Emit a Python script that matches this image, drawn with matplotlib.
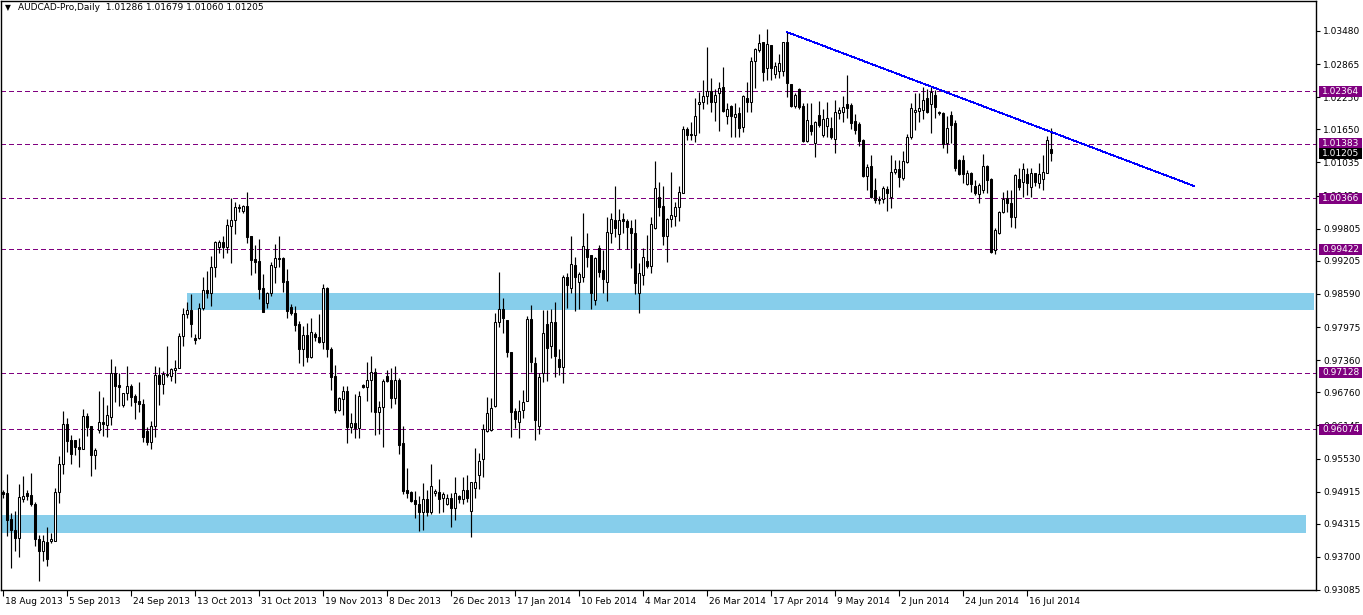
import matplotlib
matplotlib.use("Agg")
import matplotlib.pyplot as plt
import matplotlib.transforms as mtransforms
from matplotlib.patches import Rectangle
import numpy as np

# ---------------- data ----------------
opens = [0.9490, 0.9488, 0.9441, 0.9420, 0.9405, 0.9478, 0.9488, 0.9485, 0.9469, 0.9403,
         0.9381, 0.9398, 0.9400, 0.9400, 0.9490, 0.9543, 0.9617, 0.9587, 0.9587, 0.9574,
         0.9570, 0.9632, 0.9613, 0.9560, 0.9606, 0.9621, 0.9615, 0.9630, 0.9712, 0.9690,
         0.9652, 0.9675, 0.9688, 0.9669, 0.9660, 0.9654, 0.9604, 0.9584, 0.9613, 0.9708,
         0.9691, 0.9708, 0.9706, 0.9717, 0.9721, 0.9781, 0.9822, 0.9829, 0.9777, 0.9777,
         0.9833, 0.9866, 0.9861, 0.9909, 0.9946, 0.9955, 0.9946, 0.9986, 0.9997, 1.0021,
         1.0013, 1.0023, 0.9967, 0.9924, 0.9920, 0.9870, 0.9842, 0.9861, 0.9909, 0.9926,
         0.9926, 0.9883, 0.9835, 0.9824, 0.9803, 0.9757, 0.9783, 0.9742, 0.9784, 0.9779,
         0.9770, 0.9870, 0.9757, 0.9707, 0.9643, 0.9664, 0.9679, 0.9612, 0.9619, 0.9610,
         0.9690, 0.9686, 0.9699, 0.9714, 0.9640, 0.9649, 0.9706, 0.9699, 0.9666, 0.9699,
         0.9582, 0.9495, 0.9491, 0.9476, 0.9468, 0.9453, 0.9478, 0.9453, 0.9489, 0.9491,
         0.9480, 0.9468, 0.9480, 0.9461, 0.9483, 0.9478, 0.9494, 0.9455, 0.9498, 0.9523,
         0.9552, 0.9604, 0.9606, 0.9651, 0.9807, 0.9831, 0.9811, 0.9751, 0.9641, 0.9621,
         0.9643, 0.9660, 0.9812, 0.9731, 0.9614, 0.9712, 0.9803, 0.9762, 0.9807, 0.9738,
         0.9723, 0.9891, 0.9870, 0.9913, 0.9881, 0.9891, 0.9942, 0.9931, 0.9848, 0.9944,
         0.9903, 0.9881, 0.9972, 0.9996, 0.9970, 0.9999, 0.9994, 0.9981, 0.9972, 0.9861,
         0.9894, 0.9920, 0.9911, 0.9982, 1.0039, 1.0022, 0.9967, 0.9998, 1.0004, 1.0021,
         1.0047, 1.0166, 1.0157, 1.0155, 1.0212, 1.0216, 1.0227, 1.0236, 1.0216, 1.0233,
         1.0244, 1.0190, 1.0208, 1.0188, 1.0196, 1.0170, 1.0223, 1.0216, 1.0292, 1.0313,
         1.0328, 1.0279, 1.0322, 1.0268, 1.0274, 1.0274, 1.0328, 1.0249, 1.0208, 1.0240,
         1.0209, 1.0143, 1.0173, 1.0140, 1.0192, 1.0155, 1.0171, 1.0168, 1.0147, 1.0195,
         1.0197, 1.0212, 1.0210, 1.0181, 1.0175, 1.0145, 1.0078, 1.0097, 1.0052, 1.0034,
         1.0035, 1.0054, 1.0039, 1.0086, 1.0091, 1.0075, 1.0104, 1.0151, 1.0197, 1.0199,
         1.0201, 1.0223, 1.0212, 1.0229, 1.0197, 1.0195, 1.0140, 1.0192, 1.0177, 1.0108,
         1.0108, 1.0063, 1.0084, 1.0060, 1.0045, 1.0052, 1.0097, 1.0073, 0.9941, 0.9972,
         1.0011, 1.0037, 1.0028, 1.0002, 1.0073, 1.0067, 1.0082, 1.0058, 1.0084, 1.0065,
         1.0073, 1.0084, 1.01286]
highs = [0.9494, 0.9524, 0.9452, 0.9455, 0.9505, 0.9520, 0.9495, 0.9526, 0.9472, 0.9411,
         0.9411, 0.9426, 0.9415, 0.9498, 0.9558, 0.9641, 0.9628, 0.9596, 0.9587, 0.9591,
         0.9645, 0.9637, 0.9613, 0.9573, 0.9678, 0.9667, 0.9652, 0.9738, 0.9725, 0.9712,
         0.9675, 0.9725, 0.9692, 0.9673, 0.9695, 0.9664, 0.9612, 0.9623, 0.9725, 0.9723,
         0.9716, 0.9762, 0.9721, 0.9736, 0.9787, 0.9833, 0.9844, 0.9859, 0.9785, 0.9842,
         0.9890, 0.9901, 0.9929, 0.9957, 0.9959, 0.9966, 0.9999, 1.0037, 1.0030, 1.0026,
         1.0025, 1.0049, 0.9967, 0.9950, 0.9961, 0.9896, 0.9863, 0.9918, 0.9952, 0.9967,
         0.9928, 0.9905, 0.9840, 0.9837, 0.9809, 0.9800, 0.9805, 0.9814, 0.9788, 0.9822,
         0.9877, 0.9872, 0.9760, 0.9727, 0.9668, 0.9688, 0.9688, 0.9638, 0.9673, 0.9679,
         0.9692, 0.9732, 0.9744, 0.9721, 0.9660, 0.9701, 0.9717, 0.9721, 0.9725, 0.9703,
         0.9613, 0.9535, 0.9493, 0.9493, 0.9483, 0.9508, 0.9495, 0.9543, 0.9496, 0.9515,
         0.9491, 0.9487, 0.9489, 0.9519, 0.9485, 0.9519, 0.9522, 0.9509, 0.9573, 0.9563,
         0.9617, 0.9667, 0.9666, 0.9824, 0.9900, 0.9851, 0.9811, 0.9751, 0.9647, 0.9662,
         0.9680, 0.9818, 0.9838, 0.9742, 0.9712, 0.9829, 0.9829, 0.9831, 0.9844, 0.9757,
         0.9894, 0.9898, 0.9967, 0.9928, 0.9900, 1.0010, 0.9972, 0.9931, 0.9928, 0.9950,
         0.9941, 1.0002, 1.0010, 1.0059, 1.0017, 1.0010, 0.9998, 0.9996, 0.9998, 0.9916,
         0.9944, 0.9968, 1.0002, 1.0106, 1.0067, 1.0059, 1.0000, 1.0086, 1.0030, 1.0060,
         1.0171, 1.0169, 1.0179, 1.0223, 1.0235, 1.0257, 1.0318, 1.0261, 1.0240, 1.0253,
         1.0281, 1.0214, 1.0210, 1.0214, 1.0207, 1.0229, 1.0253, 1.0300, 1.0316, 1.0342,
         1.0328, 1.0352, 1.0322, 1.0290, 1.0305, 1.0328, 1.0346, 1.0249, 1.0233, 1.0242,
         1.0214, 1.0214, 1.0214, 1.0181, 1.0218, 1.0203, 1.0216, 1.0188, 1.0220, 1.0207,
         1.0227, 1.0266, 1.0214, 1.0194, 1.0179, 1.0147, 1.0101, 1.0117, 1.0074, 1.0042,
         1.0060, 1.0060, 1.0117, 1.0108, 1.0108, 1.0125, 1.0157, 1.0214, 1.0233, 1.0233,
         1.0244, 1.0240, 1.0244, 1.0238, 1.0199, 1.0197, 1.0190, 1.0199, 1.0182, 1.0110,
         1.0117, 1.0089, 1.0086, 1.0071, 1.0065, 1.0119, 1.0099, 1.0075, 0.9982, 1.0013,
         1.0049, 1.0052, 1.0052, 1.0082, 1.0093, 1.0102, 1.0093, 1.0093, 1.0084, 1.0102,
         1.0117, 1.0153, 1.01679]
lows = [0.9479, 0.9409, 0.9349, 0.9381, 0.9370, 0.9472, 0.9475, 0.9464, 0.9390, 0.9325,
        0.9363, 0.9353, 0.9396, 0.9400, 0.9470, 0.9524, 0.9565, 0.9543, 0.9559, 0.9537,
        0.9570, 0.9595, 0.9521, 0.9534, 0.9600, 0.9595, 0.9593, 0.9615, 0.9658, 0.9651,
        0.9649, 0.9662, 0.9651, 0.9626, 0.9639, 0.9584, 0.9578, 0.9570, 0.9593, 0.9652,
        0.9673, 0.9704, 0.9697, 0.9693, 0.9721, 0.9762, 0.9815, 0.9779, 0.9766, 0.9775,
        0.9829, 0.9851, 0.9837, 0.9890, 0.9935, 0.9926, 0.9935, 0.9916, 0.9970, 1.0012,
        1.0010, 0.9954, 0.9894, 0.9898, 0.9850, 0.9826, 0.9833, 0.9855, 0.9879, 0.9909,
        0.9863, 0.9814, 0.9820, 0.9790, 0.9731, 0.9725, 0.9733, 0.9740, 0.9771, 0.9768,
        0.9757, 0.9742, 0.9680, 0.9638, 0.9641, 0.9634, 0.9582, 0.9601, 0.9591, 0.9591,
        0.9684, 0.9660, 0.9640, 0.9597, 0.9599, 0.9575, 0.9695, 0.9647, 0.9654, 0.9561,
        0.9487, 0.9480, 0.9472, 0.9442, 0.9418, 0.9420, 0.9446, 0.9450, 0.9483, 0.9452,
        0.9454, 0.9466, 0.9426, 0.9439, 0.9470, 0.9468, 0.9472, 0.9407, 0.9480, 0.9496,
        0.9519, 0.9602, 0.9604, 0.9649, 0.9798, 0.9786, 0.9742, 0.9593, 0.9610, 0.9591,
        0.9628, 0.9660, 0.9714, 0.9588, 0.9599, 0.9695, 0.9697, 0.9740, 0.9705, 0.9708,
        0.9693, 0.9833, 0.9861, 0.9827, 0.9831, 0.9881, 0.9909, 0.9831, 0.9839, 0.9890,
        0.9861, 0.9846, 0.9954, 0.9965, 0.9942, 0.9972, 0.9942, 0.9907, 0.9859, 0.9824,
        0.9876, 0.9907, 0.9898, 0.9980, 1.0004, 0.9950, 0.9918, 0.9983, 0.9985, 0.9995,
        1.0047, 1.0145, 1.0145, 1.0142, 1.0158, 1.0203, 1.0212, 1.0197, 1.0181, 1.0162,
        1.0197, 1.0175, 1.0151, 1.0151, 1.0151, 1.0160, 1.0197, 1.0197, 1.0242, 1.0309,
        1.0255, 1.0257, 1.0257, 1.0261, 1.0261, 1.0264, 1.0225, 1.0206, 1.0205, 1.0203,
        1.0141, 1.0141, 1.0155, 1.0114, 1.0170, 1.0151, 1.0151, 1.0147, 1.0121, 1.0184,
        1.0179, 1.0186, 1.0166, 1.0157, 1.0134, 1.0076, 1.0052, 1.0037, 1.0028, 1.0026,
        1.0028, 1.0013, 1.0019, 1.0082, 1.0058, 1.0071, 1.0103, 1.0147, 1.0164, 1.0179,
        1.0184, 1.0195, 1.0158, 1.0186, 1.0192, 1.0130, 1.0121, 1.0140, 1.0088, 1.0080,
        1.0065, 1.0062, 1.0049, 1.0043, 1.0028, 1.0047, 1.0047, 0.9935, 0.9933, 0.9970,
        1.0009, 1.0011, 0.9983, 0.9981, 1.0052, 1.0039, 1.0043, 1.0039, 1.0060, 1.0056,
        1.0052, 1.0084, 1.01060]
closes = [0.9487, 0.9439, 0.9420, 0.9405, 0.9481, 0.9484, 0.9484, 0.9469, 0.9403, 0.9381,
          0.9400, 0.9366, 0.9403, 0.9490, 0.9543, 0.9617, 0.9585, 0.9561, 0.9574, 0.9570,
          0.9632, 0.9612, 0.9560, 0.9569, 0.9621, 0.9617, 0.9634, 0.9712, 0.9688, 0.9686,
          0.9675, 0.9688, 0.9668, 0.9658, 0.9654, 0.9593, 0.9584, 0.9613, 0.9708, 0.9691,
          0.9710, 0.9710, 0.9719, 0.9721, 0.9781, 0.9822, 0.9829, 0.9803, 0.9773, 0.9833,
          0.9866, 0.9861, 0.9909, 0.9955, 0.9955, 0.9946, 0.9987, 0.9997, 1.0021, 1.0019,
          1.0023, 0.9965, 0.9922, 0.9918, 0.9868, 0.9826, 0.9861, 0.9913, 0.9926, 0.9924,
          0.9881, 0.9827, 0.9824, 0.9801, 0.9757, 0.9783, 0.9742, 0.9788, 0.9779, 0.9770,
          0.9870, 0.9757, 0.9705, 0.9643, 0.9666, 0.9679, 0.9612, 0.9619, 0.9610, 0.9669,
          0.9686, 0.9699, 0.9714, 0.9640, 0.9649, 0.9697, 0.9697, 0.9666, 0.9699, 0.9578,
          0.9493, 0.9489, 0.9474, 0.9468, 0.9453, 0.9478, 0.9453, 0.9502, 0.9493, 0.9478,
          0.9487, 0.9480, 0.9461, 0.9489, 0.9478, 0.9494, 0.9480, 0.9509, 0.9509, 0.9548,
          0.9608, 0.9638, 0.9647, 0.9807, 0.9831, 0.9814, 0.9751, 0.9640, 0.9627, 0.9641,
          0.9658, 0.9812, 0.9732, 0.9625, 0.9705, 0.9786, 0.9758, 0.9807, 0.9744, 0.9723,
          0.9891, 0.9876, 0.9915, 0.9891, 0.9896, 0.9948, 0.9928, 0.9861, 0.9926, 0.9900,
          0.9887, 0.9974, 0.9998, 0.9982, 0.9996, 0.9994, 0.9983, 0.9972, 0.9879, 0.9898,
          0.9928, 0.9911, 0.9989, 1.0056, 1.0021, 0.9967, 0.9998, 1.0006, 1.0021, 1.0049,
          1.0166, 1.0155, 1.0155, 1.0190, 1.0216, 1.0227, 1.0236, 1.0216, 1.0229, 1.0242,
          1.0199, 1.0203, 1.0190, 1.0194, 1.0168, 1.0227, 1.0216, 1.0292, 1.0315, 1.0326,
          1.0272, 1.0324, 1.0279, 1.0283, 1.0289, 1.0328, 1.0251, 1.0208, 1.0229, 1.0207,
          1.0143, 1.0182, 1.0162, 1.0179, 1.0173, 1.0184, 1.0186, 1.0151, 1.0197, 1.0201,
          1.0207, 1.0205, 1.0177, 1.0164, 1.0143, 1.0078, 1.0095, 1.0039, 1.0034, 1.0036,
          1.0056, 1.0047, 1.0086, 1.0091, 1.0077, 1.0106, 1.0151, 1.0205, 1.0201, 1.0205,
          1.0220, 1.0197, 1.0234, 1.0207, 1.0195, 1.0138, 1.0168, 1.0173, 1.0093, 1.0082,
          1.0082, 1.0084, 1.0063, 1.0047, 1.0062, 1.0097, 1.0071, 0.9937, 0.9978, 1.0011,
          1.0036, 1.0028, 1.0002, 1.0080, 1.0058, 1.0091, 1.0065, 1.0084, 1.0067, 1.0082,
          1.0086, 1.0145, 1.01205]

date_labels = ["18 Aug 2013", "5 Sep 2013", "24 Sep 2013", "13 Oct 2013", "31 Oct 2013",
               "19 Nov 2013", "8 Dec 2013", "26 Dec 2013", "17 Jan 2014", "10 Feb 2014",
               "4 Mar 2014", "26 Mar 2014", "17 Apr 2014", "9 May 2014", "2 Jun 2014",
               "24 Jun 2014", "16 Jul 2014"]
date_bars = [0, 16, 32, 48, 64, 80, 96, 112, 128, 144, 160, 176, 192, 208, 224, 240, 256]

price_ticks = [1.03480, 1.02865, 1.02250, 1.01650, 1.01035, 1.00420, 0.99805, 0.99205,
               0.98590, 0.97975, 0.97360, 0.96760, 0.96145, 0.95530, 0.94915, 0.94315,
               0.93700, 0.93085]

level_prices = [1.02364, 1.01383, 1.00366, 0.99422, 0.97128, 0.96074]
current_price = 1.01205

zone_bars = [(46, 327.75), (-1, 325.75)]
zone_prices = [(0.98292, 0.98608), (0.94146, 0.94480)]

trend_bars = [196, 297.75]
trend_prices = [1.0346, 1.00598]

symbol_title = "AUDCAD-Pro,Daily  1.01286 1.01679 1.01060 1.01205"

# ---------------- figure ----------------
W, H = 1363, 615
fig = plt.figure(figsize=(W / 100, H / 100), dpi=100)
fig.patch.set_facecolor("white")

ax_left, ax_right, ax_top, ax_bottom = 1, 1316, 1, 590
ax = fig.add_axes([ax_left / W, (H - ax_bottom) / H, (ax_right - ax_left) / W,
                   (ax_bottom - ax_top) / H])
ax.set_facecolor("white")

px_per_unit = 5378.0
ax.set_xlim((ax_left - 3) / 4.0, (ax_right - 3) / 4.0)
ax.set_ylim(1.0348 - (ax_bottom - 31) / px_per_unit, 1.0348 + (31 - ax_top) / px_per_unit)

PURPLE = "#800080"
FS = 6.5

# zones
for (b0, b1), (p0, p1) in zip(zone_bars, zone_prices):
    ax.add_patch(Rectangle((b0, p0), b1 - b0, p1 - p0, facecolor="#87CEEB",
                           edgecolor="none", zorder=1))

# horizontal levels
for lvl in level_prices:
    ax.axhline(lvl, color=PURPLE, lw=0.65, ls=(0, (5, 4)), zorder=2, antialiased=False)

# candles
o = np.array(opens); h = np.array(highs); l = np.array(lows); c = np.array(closes)
x = np.arange(len(o))
ax.vlines(x, l, h, color="black", lw=0.85, zorder=3)
bottoms = np.minimum(o, c)
heights = np.maximum(np.abs(c - o), 0.00006)
face = np.where(c >= o, "white", "black")
ax.bar(x, heights, bottom=bottoms, width=0.62, color=face, edgecolor="black",
       lw=0.75, zorder=4)

# trend line
ax.plot(trend_bars, trend_prices, color="#0000FF", lw=0.6, zorder=5, antialiased=False)

# axes styling
for s in ax.spines.values():
    s.set_color("black")
    s.set_linewidth(1.0)

ax.yaxis.tick_right()
ax.set_yticks(price_ticks)
ax.set_yticklabels([f"{v:.5f}" for v in price_ticks])
ax.tick_params(axis="y", direction="out", length=3, width=0.8, pad=2,
               labelsize=FS, colors="black")
ax.set_xticks(date_bars)
ax.set_xticklabels(date_labels)
ax.tick_params(axis="x", direction="out", length=4, width=0.8, pad=1,
               labelsize=FS, colors="black")
offset = mtransforms.ScaledTranslation(2 / 100, 0, fig.dpi_scale_trans)
for lab in ax.get_xticklabels():
    lab.set_horizontalalignment("left")
    lab.set_transform(lab.get_transform() + offset)

# price boxes on the right axis
blend = mtransforms.blended_transform_factory(fig.transFigure, ax.transData)
box_h = 11 / px_per_unit
for lvl, col in [(p, PURPLE) for p in level_prices] + [(current_price, "black")]:
    fig.add_artist(Rectangle((1319 / W, lvl - box_h / 2), 43 / W, box_h,
                             transform=blend, facecolor=col, edgecolor="none",
                             zorder=10, clip_on=False))
    fig.add_artist(plt.Text(1322 / W, lvl, f"{lvl:.5f}", transform=blend,
                            color="white", fontsize=FS, va="center", ha="left",
                            zorder=11))

# title
fig.text(5 / W, 1 - 8 / H, "\u25BC", fontsize=5.5, va="center", ha="left")
fig.text(18 / W, 1 - 8 / H, symbol_title, fontsize=FS, va="center", ha="left")

fig.savefig("out.png", dpi=100, facecolor="white")
